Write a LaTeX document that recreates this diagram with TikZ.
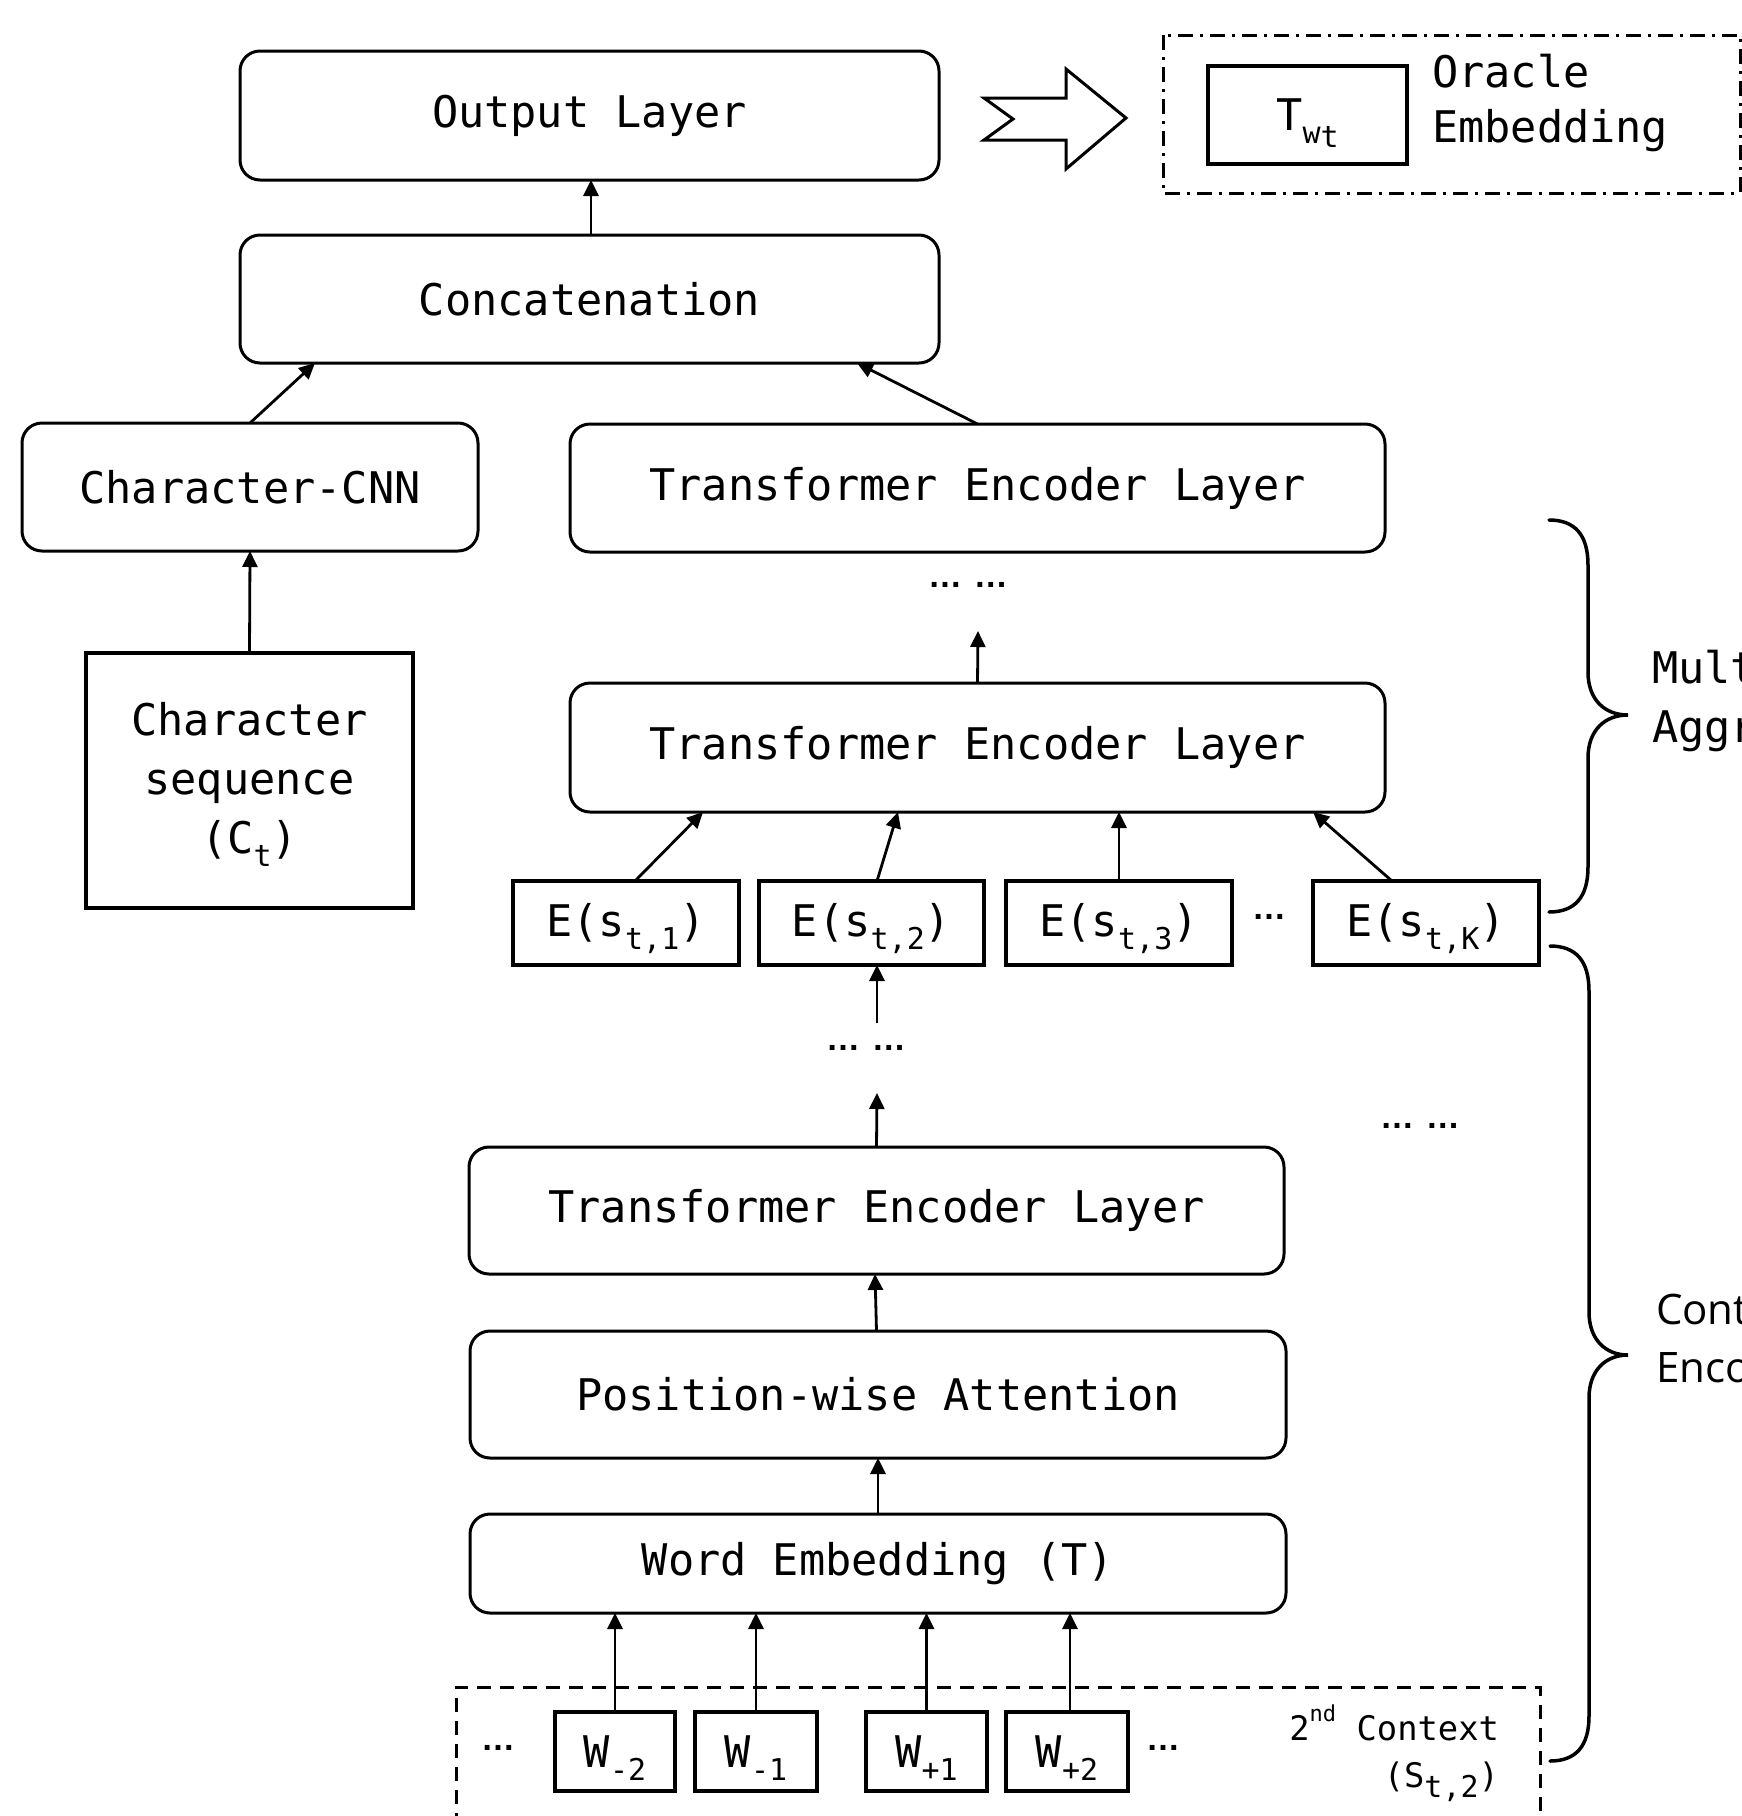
\documentclass[tikz,border=0pt]{standalone}
\usepackage{fontspec}
\setmainfont{DejaVu Sans Mono}
\newfontfamily\ctxfont{Open Sans}
\newfontfamily\dotfont{Liberation Sans Bold}
\usetikzlibrary{arrows.meta}
\newcommand\lowr[1]{\raisebox{-0.3em}[0pt][0pt]{\fontsize{30}{30}\selectfont #1}}
\newcommand\upr[1]{\raisebox{0.55em}{\fontsize{22}{22}\selectfont #1}}
\begin{document}
\begin{tikzpicture}[x=1pt,y=-1pt,
  every node/.style={font=\fontsize{43.6}{59}\selectfont, inner sep=0pt, outer sep=0pt},
  rbox/.style={draw, line width=3pt, rounded corners=20pt, fill=white, align=center},
  sbox/.style={draw, line width=4pt, fill=white, align=center},
  arr/.style={line width=2.8pt, -{Triangle[length=16pt,width=15pt]}},
  brc/.style={line width=3.5pt, line cap=round},
  dots/.style={font=\dotfont\fontsize{34}{40}\selectfont},
]
\useasboundingbox (0,0) rectangle (1742,1816);
\fill[white] (0,0) rectangle (1742,1816);
\clip (0,0) rectangle (1742,1816);

% top part
\node[rbox, minimum width=699pt, minimum height=129pt] (out) at (589.5,115.5) {Output Layer};
\node[rbox, minimum width=699pt, minimum height=128pt] (cat) at (589.5,299) {Concatenation};
\node[rbox, minimum width=456pt, minimum height=128pt] (cnn) at (250,487) {Character-CNN};
\node[rbox, minimum width=815pt, minimum height=128pt] (tel1) at (977.5,488) {Transformer Encoder Layer};
\node[rbox, minimum width=815pt, minimum height=129pt] (tel2) at (977.5,747.5) {Transformer Encoder Layer};
\node[sbox, line width=3.3pt, minimum width=327pt, minimum height=255pt] (cseq) at (249.5,780.5) {Character\\sequence\\(C\lowr{t})};

% oracle
\draw[line width=3pt, dash pattern=on 15pt off 7pt on 3pt off 7pt] (1163,35) rectangle (1740,193);
\node[sbox, line width=3.5pt, minimum width=199pt, minimum height=98pt] (twt) at (1307.5,115) {T\lowr{w\raisebox{-0.12em}{t}}};
\node[anchor=west, align=left, font=\fontsize{43.6}{55}\selectfont] (orc) at (1432,103) {Oracle\\Embedding};
\draw[line width=3pt, line join=miter] (984,98) -- (1013,119) -- (984,140) -- (1066,140) -- (1066,169) -- (1126,118) -- (1066,69) -- (1066,98) -- cycle;

% E row
\node[sbox, minimum width=226pt, minimum height=84pt] (e1) at (626,923) {E(s\lowr{t,1})};
\node[sbox, minimum width=225pt, minimum height=84pt] (e2) at (871.5,923) {E(s\lowr{t,2})};
\node[sbox, minimum width=226pt, minimum height=84pt] (e3) at (1119,923) {E(s\lowr{t,3})};
\node[dots] (edots) at (1269,917) {…};
\node[sbox, minimum width=226pt, minimum height=84pt] (ek) at (1426,923) {E(s\lowr{t,K})};

% lower stack
\node[rbox, minimum width=815pt, minimum height=127pt] (tel3) at (876.5,1210.5) {Transformer Encoder Layer};
\node[rbox, minimum width=816pt, minimum height=127pt] (pwa) at (878,1394.5) {Position-wise Attention};
\node[rbox, minimum width=816pt, minimum height=99pt] (we) at (878,1563.5) {Word Embedding (T)};

% dots
\node[dots] (d1) at (968,585) {…\hspace{12pt}…};
\node[dots] (d2) at (866,1048) {…\hspace{12pt}…};
\node[dots] (d3) at (1420,1126) {…\hspace{12pt}…};
\coordinate (a1) at (978,631);
\coordinate (a2) at (877,1023);
\coordinate (a3) at (877,1093);

% context box
\draw[line width=3pt, dash pattern=on 14pt off 9pt] (456,1850) -- (456,1687) -- (1540,1687) -- (1540,1850);
\node[sbox, minimum width=120pt, minimum height=79pt] (wm2) at (615,1751.5) {W\lowr{-2}};
\node[sbox, minimum width=122pt, minimum height=79pt] (wm1) at (756,1751.5) {W\lowr{-1}};
\node[sbox, minimum width=121pt, minimum height=79pt] (wp1) at (926.5,1751.5) {W\lowr{+1}};
\node[sbox, minimum width=122pt, minimum height=79pt] (wp2) at (1067,1751.5) {W\lowr{+2}};
\node[dots] (wd1) at (498,1748) {…};
\node[dots] (wd2) at (1163,1748) {…};
\node[anchor=east, align=right, font=\fontsize{33.8}{47}\selectfont] (ctx) at (1499,1748.5) {2\upr{nd} Context\\(S\lowr{t,2})};

% braces
\draw[brc] (1549,520) .. controls (1575,520) and (1588,535) .. (1588,565) -- (1588,672) .. controls (1588,700) and (1605,715) .. (1628,715) .. controls (1605,715) and (1588,730) .. (1588,758) -- (1588,867) .. controls (1588,897) and (1575,912) .. (1549,912);
\draw[brc] (1550,946) .. controls (1576,946) and (1589,961) .. (1589,991) -- (1589,1312) .. controls (1589,1340) and (1606,1355) .. (1628,1355) .. controls (1606,1355) and (1589,1370) .. (1589,1398) -- (1589,1716) .. controls (1589,1746) and (1576,1761) .. (1550,1761);
\node[anchor=west, align=left] (mca) at (1652,701) {Multi-context\\Aggregation};
\node[anchor=west, align=left, font=\ctxfont\fontsize{42}{58}\selectfont] (cen) at (1656,1338) {Context\\Encoder};

% arrows
\draw[arr] ([xshift=1.5pt]cat.north) -- ([xshift=1.5pt]out.south);
\draw[arr] (cnn.north) -- ([xshift=-274.5pt]cat.south);
\draw[arr] (tel1.north) -- ([xshift=267.5pt]cat.south);
\draw[arr] (cseq.north) -- (cnn.south);
\draw[arr] (tel2.north) -- (a1);
\draw[arr] ([xshift=9pt]e1.north) -- ([xshift=-274.5pt]tel2.south);
\draw[arr] ([xshift=5.5pt]e2.north) -- ([xshift=-79.5pt]tel2.south);
\draw[arr] (e3.north) -- ([xshift=141.5pt]tel2.south);
\draw[arr] ([xshift=-34pt]ek.north) -- ([xshift=335.5pt]tel2.south);
\draw[arr] (a2) -- ([xshift=5.5pt]e2.south);
\draw[arr] (tel3.north) -- (a3);
\draw[arr] ([xshift=-1.5pt]pwa.north) -- ([xshift=-1.5pt]tel3.south);
\draw[arr] (we.north) -- (pwa.south);
\draw[arr] (wm2.north) -- (we.south -| wm2.north);
\draw[arr] (wm1.north) -- (we.south -| wm1.north);
\draw[arr] (wp1.north) -- (we.south -| wp1.north);
\draw[arr] ([xshift=3pt]wp2.north) -- ([xshift=3pt]we.south -| wp2.north);
\end{tikzpicture}
\end{document}
